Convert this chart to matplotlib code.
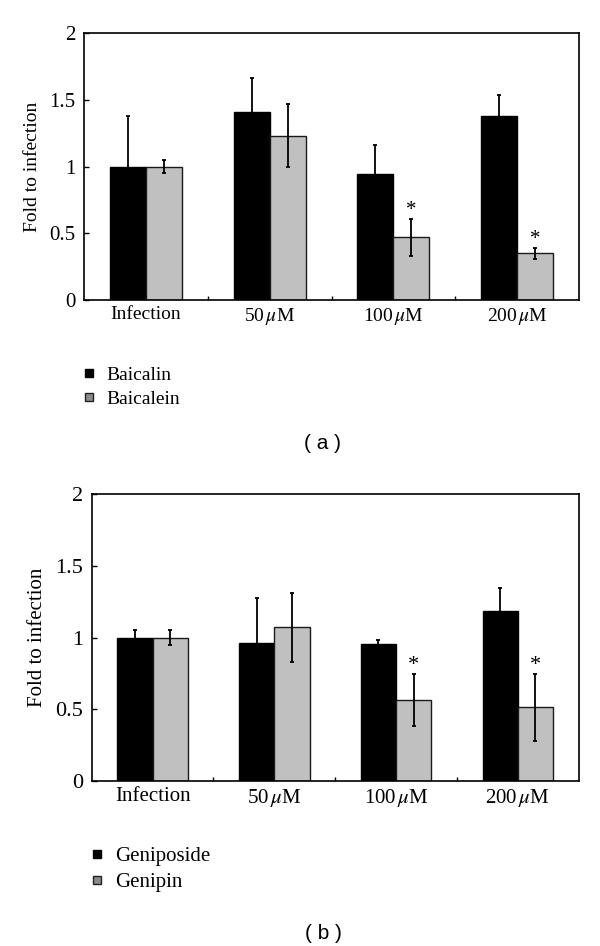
import numpy as np
import matplotlib.pyplot as plt
from matplotlib.lines import Line2D

plt.rcParams['font.family'] = ['Liberation Serif', 'DejaVu Serif']
plt.rcParams['mathtext.fontset'] = 'stix'

# data
groups = ["Infection", r"50$\,\mu$M", r"100$\,\mu$M", r"200$\,\mu$M"]

baicalin = [1.00, 1.41, 0.945, 1.38]
baicalin_err = [0.38, 0.25, 0.215, 0.155]
baicalein = [1.00, 1.23, 0.47, 0.35]
baicalein_err = [0.05, 0.235, 0.14, 0.042]
star_a = [False, False, True, True]

geniposide = [1.00, 0.96, 0.955, 1.185]
geniposide_err = [0.05, 0.315, 0.025, 0.16]
genipin = [1.00, 1.07, 0.563, 0.512]
genipin_err = [0.05, 0.24, 0.182, 0.236]
star_b = [False, False, True, True]

W, H = 600, 946
fig = plt.figure(figsize=(W / 100, H / 100), dpi=100)


def panel(rect, s1, e1, s2, e2, stars, names, fs, leg_xy, caption, cap_y):
    ax = fig.add_axes(rect)
    x = np.arange(len(groups))
    bw = 0.29
    ekw = dict(elinewidth=1.3, capthick=1.3, capsize=1.6, ecolor='black')
    ax.bar(x - bw / 2, s1, bw, color='black', edgecolor='black', lw=1.0,
           yerr=e1, error_kw=ekw, zorder=2)
    ax.bar(x + bw / 2, s2, bw, color='#c0c0c0', edgecolor='#1a1a1a', lw=1.0,
           yerr=e2, error_kw=ekw, zorder=2)
    for i, st in enumerate(stars):
        if st:
            ax.annotate('*', (x[i] + bw / 2, s2[i] + e2[i]), xytext=(0, -1),
                        textcoords='offset points', ha='center', va='bottom',
                        fontsize=fs + 1)
    ax.set_xlim(-0.5, len(groups) - 0.5)
    ax.set_ylim(0, 2)
    ax.set_yticks([0, 0.5, 1, 1.5, 2])
    ax.set_yticklabels(['0', '0.5', '1', '1.5', '2'])
    ax.set_xticks(x[:-1] + 0.5)
    ax.set_xticklabels([])
    ax.set_xticks(x, minor=True)
    ax.set_xticklabels(groups, minor=True)
    ax.tick_params(axis='y', direction='in', length=3.6, width=1.0,
                   labelsize=fs + 1, pad=6)
    ax.tick_params(axis='x', which='major', direction='in', length=3,
                   width=1.0)
    ax.tick_params(axis='x', which='minor', length=0, labelsize=fs,
                   pad=4.5)
    for sp in ax.spines.values():
        sp.set_linewidth(1.2)
    ax.set_ylabel('Fold to infection', fontsize=fs, labelpad=6)

    handles = [Line2D([], [], ls='none', marker='s', ms=6, mfc='black',
                      mec='black'),
               Line2D([], [], ls='none', marker='s', ms=6, mfc='#8a8a8a',
                      mec='#222222', mew=1.0)]
    fig.legend(handles, names, loc='center left',
               bbox_to_anchor=(leg_xy[0] / W, 1 - leg_xy[1] / H),
               frameon=False, fontsize=fs, borderpad=0, borderaxespad=0,
               handlelength=0.8, handletextpad=0.5, labelspacing=0.32)
    fig.text(323 / W, 1 - cap_y / H, caption, ha='center', va='center',
             fontsize=15, family=['Liberation Sans', 'DejaVu Sans'])
    return ax


panel([84 / W, 1 - 300 / H, 495 / W, 267 / H],
      baicalin, baicalin_err, baicalein, baicalein_err, star_a,
      ['Baicalin', 'Baicalein'], 14, (81, 387), '( a )', 443)
panel([91.7 / W, 1 - 780.7 / H, 487 / W, 286.4 / H],
      geniposide, geniposide_err, genipin, genipin_err, star_b,
      ['Geniposide', 'Genipin'], 15, (88.5, 869.5), '( b )', 933)

fig.savefig('out.png', dpi=100)
